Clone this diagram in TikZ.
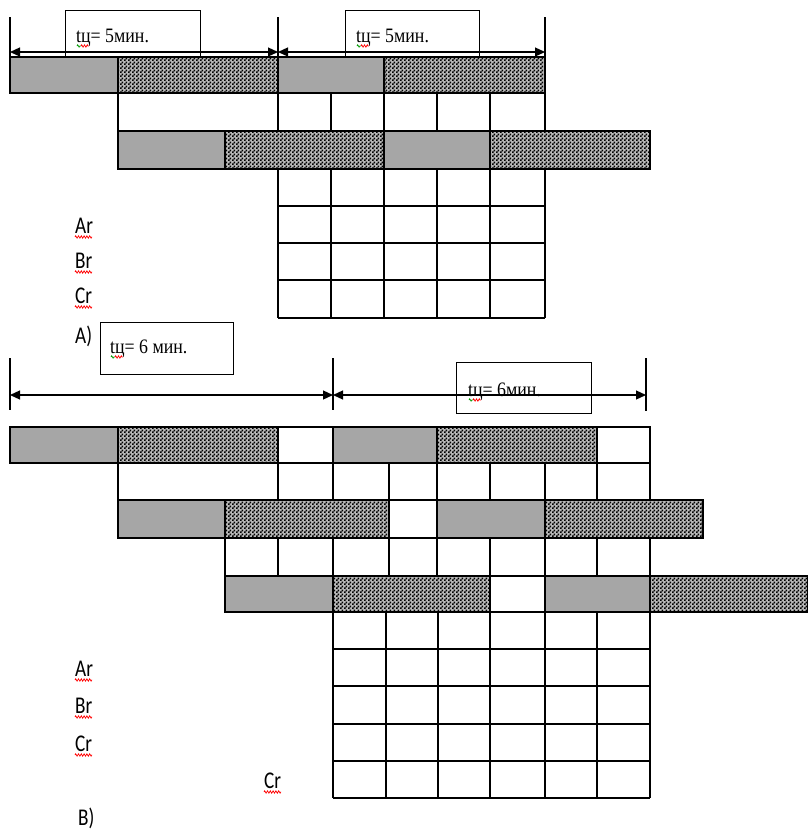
\documentclass[tikz,border=0pt]{standalone}
\usepackage{graphicx}
\usepackage{fontspec}
\setmainfont{Liberation Serif}
\newfontfamily\lblfont{Carlito}
\usetikzlibrary{arrows.meta,patterns,decorations.pathmorphing}
\definecolor{bargray}{HTML}{A6A6A6}
\definecolor{hatchbg}{HTML}{B8B8B8}
\pgfdeclarepatternformonly{finecheck}{\pgfqpoint{0pt}{0pt}}{\pgfqpoint{4pt}{4pt}}{\pgfqpoint{4pt}{4pt}}{%
  \pgfpathrectangle{\pgfqpoint{0pt}{0pt}}{\pgfqpoint{2pt}{2pt}}%
  \pgfpathrectangle{\pgfqpoint{2pt}{2pt}}{\pgfqpoint{2pt}{2pt}}%
  \pgfusepath{fill}}
\newcommand{\narlbl}[1]{\scalebox{0.8}[1]{\lblfont\fontsize{24}{26}\selectfont #1}}
\newcommand{\nartxt}[1]{\scalebox{0.87}[1]{\fontsize{20.5}{22}\selectfont #1}}
\tikzset{
  seggray/.style={fill=bargray,draw=black,line width=1.4pt},
  seghatch/.style={fill=hatchbg,postaction={pattern=finecheck},draw=black,line width=1.4pt},
  segwhite/.style={draw=black,line width=1.4pt},
  gridline/.style={draw=black,line width=1.2pt},
  tbox/.style={draw=black,line width=1.3pt,anchor=north west,inner sep=0pt},
  dimarrow/.style={line width=1.2pt,{Triangle[length=10pt,width=9pt]}-{Triangle[length=10pt,width=9pt]}},
  ticklin/.style={line width=1.1pt},
  lbl/.style={anchor=base west,inner sep=0pt},
  squig/.style={red,line width=0.7pt,decorate,decoration={zigzag,amplitude=1.2pt,segment length=2.8pt}},
  squigg/.style={green!60!black,line width=0.7pt,decorate,decoration={zigzag,amplitude=1.2pt,segment length=2.8pt}}
}
\begin{document}
\begin{tikzpicture}[x=1pt,y=-1pt]
\useasboundingbox (0,0) rectangle (808,833);
\fill[white] (0,0) rectangle (808,833);

% ================= A =================
\draw[ticklin] (10,17) -- (10,57);
\draw[ticklin] (278,17) -- (278,57);
\draw[ticklin] (545,17) -- (545,57);
\coordinate (a0) at (10,52);
\coordinate (a1) at (278,52);
\coordinate (a2) at (545,52);
\draw[dimarrow] (a0) -- (a1);
\draw[dimarrow] (a1) -- (a2);
\node[tbox,minimum width=135pt,minimum height=52pt] (bA1) at (65,10) {};
\node[tbox,minimum width=134pt,minimum height=52pt] (bA2) at (345,10) {};
\node[lbl] (tA1) at (76,42) {\nartxt{tц= 5мин.}};
\node[lbl] (tA2) at (356,42) {\nartxt{tц= 5мин.}};
\draw[squigg] (77,46) -- (81,46);
\draw[squig] (81,46) -- (89,46);
\draw[squigg] (357,46) -- (361,46);
\draw[squig] (361,46) -- (369,46);

% bar A1
\draw[seggray] (10,57) rectangle (118,93);
\draw[seghatch] (118,57) rectangle (278,93);
\draw[seggray] (278,57) rectangle (384,93);
\draw[seghatch] (384,57) rectangle (545,93);
% row A2
\foreach \x in {118,278,331,384,437,490,545} \draw[gridline] (\x,93) -- (\x,131);
% bar A2
\draw[seggray] (118,131) rectangle (225,169);
\draw[seghatch] (225,131) rectangle (384,169);
\draw[seggray] (384,131) rectangle (490,169);
\draw[seghatch] (490,131) rectangle (650,169);
% grid A
\foreach \x in {278,331,384,437,490,545} \draw[gridline] (\x,169) -- (\x,318);
\foreach \y in {206,243,280,318} \draw[gridline] (278,\y) -- (545,\y);

\node[lbl] (lAr) at (75,233) {\narlbl{Ar}};
\node[lbl] (lBr) at (75,268) {\narlbl{Br}};
\node[lbl] (lCr) at (75,303) {\narlbl{Cr}};
\node[lbl] (lA) at (75,343) {\narlbl{A)}};
\draw[squig] (75,237) -- (92,237);
\draw[squig] (75,272) -- (92,272);
\draw[squig] (75,307) -- (92,307);

% ================= B =================
\node[tbox,minimum width=133pt,minimum height=52pt] (bB1) at (100,322) {};
\node[lbl] (tB1) at (110,353) {\nartxt{tц= 6 мин.}};
\draw[squigg] (111,357) -- (115,357);
\draw[squig] (115,357) -- (123,357);

\draw[ticklin] (10,358) -- (10,410);
\draw[ticklin] (333,358) -- (333,410);
\draw[ticklin] (646,358) -- (646,411);
\coordinate (b0) at (10,395);
\coordinate (b1) at (333,395);
\coordinate (b2) at (646,395);
\draw[dimarrow] (b0) -- (b1);
\draw[dimarrow] (b1) -- (b2);
\node[tbox,minimum width=135pt,minimum height=51pt] (bB2) at (456,362) {};
\node[lbl] (tB2) at (468,396) {\nartxt{tц= 6мин.}};
\draw[squigg] (469,400) -- (473,400);
\draw[squig] (473,400) -- (481,400);

% bar B1
\draw[seggray] (10,427) rectangle (118,463);
\draw[seghatch] (118,427) rectangle (278,463);
\draw[segwhite] (278,427) rectangle (333,463);
\draw[seggray] (333,427) rectangle (437,463);
\draw[seghatch] (437,427) rectangle (597,463);
\draw[segwhite] (597,427) rectangle (650,463);
% row B2
\foreach \x in {118,278,333,389,437,490,545,597,650} \draw[gridline] (\x,463) -- (\x,500);
% bar B2
\draw[seggray] (118,500) rectangle (225,538);
\draw[seghatch] (225,500) rectangle (389,538);
\draw[segwhite] (389,500) rectangle (437,538);
\draw[seggray] (437,500) rectangle (545,538);
\draw[seghatch] (545,500) rectangle (703,538);
% row B4
\foreach \x in {225,278,333,389,437,490,545,597,650} \draw[gridline] (\x,538) -- (\x,576);
% bar B3
\draw[seggray] (225,576) rectangle (333,612);
\draw[seghatch] (333,576) rectangle (490,612);
\draw[segwhite] (490,576) rectangle (545,612);
\draw[seggray] (545,576) rectangle (650,612);
\draw[seghatch] (650,576) rectangle (807.3,612);
% grid B
\foreach \x in {333,386,438,490,545,597,650} \draw[gridline] (\x,612) -- (\x,798);
\foreach \y in {649,686,724,761,798} \draw[gridline] (333,\y) -- (650,\y);

\node[lbl] (mAr) at (75,676) {\narlbl{Ar}};
\node[lbl] (mBr) at (75,713) {\narlbl{Br}};
\node[lbl] (mCr) at (75,751) {\narlbl{Cr}};
\node[lbl] (mCr2) at (264,788) {\narlbl{Cr}};
\node[lbl] (mB) at (78,825) {\narlbl{B)}};
\draw[squig] (75,680) -- (92,680);
\draw[squig] (75,717) -- (92,717);
\draw[squig] (75,755) -- (92,755);
\draw[squig] (264,792) -- (281,792);
\end{tikzpicture}
\end{document}
